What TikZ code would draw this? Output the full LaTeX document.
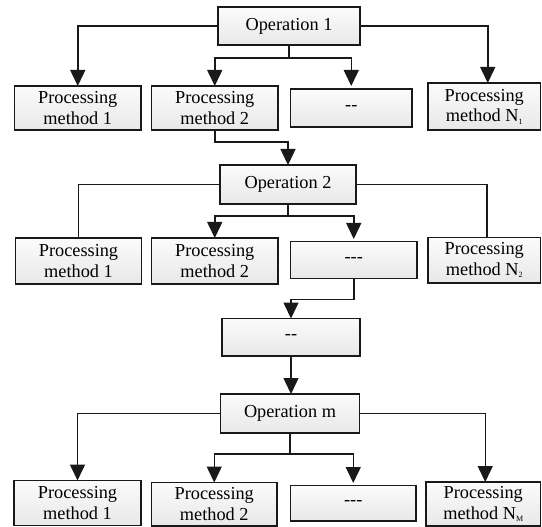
\documentclass[tikz,border=0pt]{standalone}
\usepackage{fontspec}
\setmainfont{Liberation Serif}
\usetikzlibrary{arrows.meta}
\newcommand{\subN}[1]{N\raisebox{-2.5pt}{\fontsize{8}{8}\selectfont #1}}
\tikzset{
  box/.style={draw=black!90, line width=1.8pt, top color=gray!3, bottom color=gray!18,
    inner sep=0pt, outer sep=0pt, align=center, font=\fontsize{18.3}{20.5}\selectfont},
  conn/.style={draw=black!90, line width=1.5pt},
  arr/.style={conn, -{Triangle[width=15pt,length=16pt]}},
}
\begin{document}
\begin{tikzpicture}[x=1pt,y=-1pt]
\useasboundingbox (0,0) rectangle (542,527);
% row 1
\node[box, minimum width=142pt, minimum height=38pt] (op1) at (289,26) {Operation 1};
\node[box, minimum width=126.5pt, minimum height=44pt] (a1) at (77.75,108) {Processing\\method 1};
\node[box, minimum width=126.5pt, minimum height=44pt] (b1) at (214.75,108) {Processing\\method 2};
\node[box, minimum width=121.5pt, minimum height=38pt] (c1) at (351.25,108) {-{}-};
\node[box, minimum width=112.5pt, minimum height=47pt] (d1) at (484.25,106.5) {Processing\\method \subN{1}};
% row 2
\node[box, minimum width=136pt, minimum height=39pt] (op2) at (288,184.5) {Operation 2};
\node[box, minimum width=126pt, minimum height=46pt] (a2) at (78.5,261) {Processing\\method 1};
\node[box, minimum width=126.5pt, minimum height=46pt] (b2) at (214.75,261) {Processing\\method 2};
\node[box, minimum width=126.5pt, minimum height=37pt] (c2) at (353.75,260) {-{}-{}-};
\node[box, minimum width=112.5pt, minimum height=45.5pt] (d2) at (484.25,260.25) {Processing\\method \subN{2}};
% middle
\node[box, minimum width=138pt, minimum height=37.5pt] (dd) at (291,337.25) {-{}-};
\node[box, minimum width=139pt, minimum height=39pt] (opm) at (290,413.5) {Operation m};
% row 3
\node[box, minimum width=127pt, minimum height=45pt] (a3) at (77.5,503) {Processing\\method 1};
\node[box, minimum width=125.5pt, minimum height=43.5pt] (b3) at (214.25,504.25) {Processing\\method 2};
\node[box, minimum width=125.5pt, minimum height=35.5pt] (c3) at (353.25,503.25) {-{}-{}-};
\node[box, minimum width=114.5pt, minimum height=44pt] (d3) at (483.25,504) {Processing\\method \subN{M}};

% connectors row 1
\coordinate (j1) at (289,58);
\draw[arr] (op1.west) -| (a1.north);
\draw[arr] (op1.east) -| ([xshift=3.5pt]d1.north);
\draw[conn] (op1.south) -- (j1);
\draw[arr] (j1) -| (b1.north);
\draw[arr, shorten >=3pt] (j1) -| (c1.north);
\coordinate (k1) at (214.75,142);
\draw[arr] (b1.south) -- (k1) -| (op2.north);
% connectors row 2
\coordinate (j2) at (288,216);
\draw[conn] (op2.west) -| (a2.north);
\draw[conn] (op2.east) -| ([xshift=2.5pt]d2.north);
\draw[conn] (op2.south) -- (j2);
\draw[arr] (j2) -| (b2.north);
\draw[arr, shorten >=2.5pt] (j2) -| (c2.north);
\coordinate (k2) at (353.75,299.5);
\draw[arr] (c2.south) -- (k2) -| (dd.north);
\draw[arr] (dd.south) -- (dd.south |- opm.north);
% connectors row 3
\coordinate (j3) at (290,454);
\draw[arr] (opm.west) -| (a3.north);
\draw[arr] (opm.east) -| ([xshift=2pt]d3.north);
\draw[conn] (opm.south) -- (j3);
\draw[arr] (j3) -| (b3.north);
\draw[arr, shorten >=2.5pt] (j3) -| (c3.north);
\end{tikzpicture}
\end{document}
